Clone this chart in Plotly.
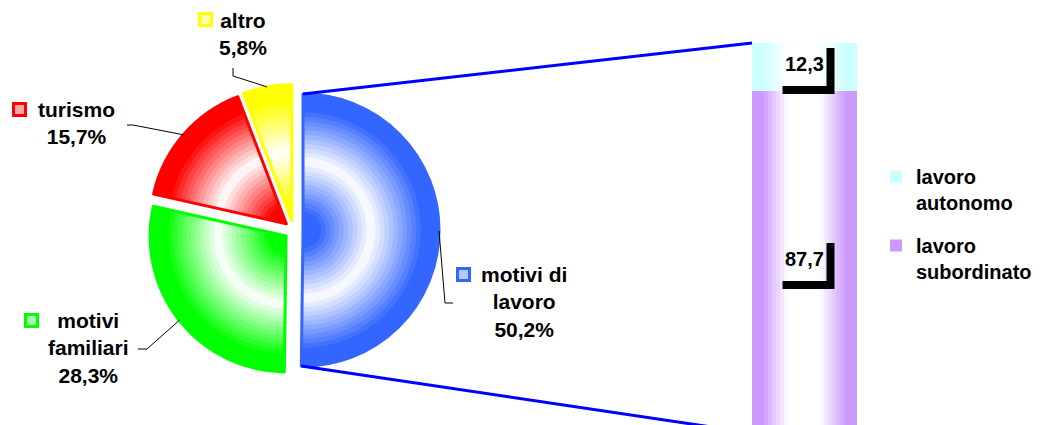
import textwrap
import numpy as np
import plotly.graph_objects as go

# dati
motivi = ["motivi di lavoro", "motivi familiari", "turismo", "altro"]
quote = [50.2, 28.3, 15.7, 5.8]
lavoro = ["lavoro autonomo", "lavoro subordinato"]
quote_lavoro = [12.3, 87.7]

W, H = 1052, 425
OFF = 8  # margine del body della pagina
FONT = "Liberation Sans, Arial, sans-serif"

col_pie = ["#3366FF", "#00FF00", "#FF0000", "#FFFF00"]
col_bar = ["#CCFFFF", "#CC99FF"]


def mix(c, s):
    # s=1 colore pieno, s=0 bianco
    rgb = [int(c[i:i + 2], 16) for i in (1, 3, 5)]
    return "rgb(%d,%d,%d)" % tuple(round(255 + (v - 255) * s) for v in rgb)


def virgola(v):
    return f"{v:.1f}".replace(".", ",")


def paper(px, py):
    return (px - OFF) / W, 1 - (py - OFF) / H


# geometria della torta (pixel dello schermo)
pie_cx, pie_cy, pie_size = 293.5, 230, 291
pull = 0.07
r = pie_size / (2 + 2 * pull)
x0p, y1p = paper(pie_cx - pie_size / 2, pie_cy - pie_size / 2)
x1p, y0p = paper(pie_cx + pie_size / 2, pie_cy + pie_size / 2)
pie_dom = dict(x=[x0p, x1p], y=[y0p, y1p])

fig = go.Figure()

# sfumatura: anelli sovrapposti
N = 30
for k in range(N):
    t = (k + 0.5) / N
    s = min(1.0, abs(t - 0.5) / 0.38)
    fig.add_trace(go.Pie(
        labels=motivi, values=quote, hole=k / N, sort=False, direction="clockwise",
        rotation=0, pull=pull, domain=pie_dom, textinfo="none", hoverinfo="skip",
        showlegend=False, marker=dict(colors=[mix(c, s) for c in col_pie], line=dict(width=0)),
    ))
fig.add_trace(go.Pie(
    labels=motivi, values=quote, sort=False, direction="clockwise", rotation=0,
    pull=pull, domain=pie_dom, textinfo="none", showlegend=False,
    marker=dict(colors=["rgba(0,0,0,0)"] * 4, line=dict(color=col_pie, width=3)),
))

# barra
bx0, by1 = paper(752, 43)
bx1, by0 = paper(857, H + OFF)
bar_dom_x = [bx0, bx1]
bar_dom_y = [by0, by1]

basi = [sum(quote_lavoro[i + 1:]) for i in range(len(quote_lavoro))]
S = 26  # strisce verticali per la sfumatura
for i, (nome, v, b) in enumerate(zip(lavoro, quote_lavoro, basi)):
    for j in range(S):
        a = -0.5 + j / S
        u = abs(a + 0.5 / S) * 2
        s = min(1.0, max(0.0, (u - 0.3) / 0.5))
        fig.add_trace(go.Bar(
            x=[0], y=[v], base=[b], width=[1 / S + 0.006], offset=[a - 0.003],
            marker=dict(color=mix(col_bar[i], s), line=dict(width=0)),
            name="<br>".join(textwrap.wrap(nome, 9, break_long_words=False)),
            legendgroup=nome, showlegend=(j == 0), hoverinfo="skip",
        ))
for v, b in zip(quote_lavoro, basi):
    fig.add_annotation(x=0, y=b + v / 2, xref="x", yref="y", yshift=3, showarrow=False,
                       text=virgola(v),
                       font=dict(family=FONT, size=20, color="black", weight="bold"))
    # cornice nera dell'etichetta
    fig.add_shape(type="path", xref="x", yref="y", xsizemode="pixel", ysizemode="pixel",
                  xanchor=0, yanchor=b + v / 2, path="M -22,-23 L 26,-23 L 26,19",
                  line=dict(color="black", width=8))

# etichette della torta
pos_testo = [(524, 302), (88, 348), (76, 123), (243, 34)]
pos_chiave = [(463, 274), (31, 320), (19, 109), (205, 20)]
gomiti = [[(445, 303), (453, 303)], [(147, 349), (138, 349)],
          [(133, 125), (127, 125)], [(233, 76), (233, 68)]]

tot = sum(quote)
cum = np.cumsum([0] + quote)
for i, (nome, v) in enumerate(zip(motivi, quote)):
    mid = np.radians(360 * (cum[i] + v / 2) / tot)
    ax_ = pie_cx + (r + pull * r) * np.sin(mid)
    ay_ = pie_cy - (r + pull * r) * np.cos(mid)
    pts = [(ax_, ay_)] + gomiti[i]
    path = "M " + " L ".join("%.4f,%.4f" % paper(px, py) for px, py in pts)
    fig.add_shape(type="path", xref="paper", yref="paper", path=path,
                  line=dict(color="black", width=1))
    tx, ty = paper(*pos_testo[i])
    fig.add_annotation(
        x=tx, y=ty, xref="paper", yref="paper", xanchor="center", yanchor="middle",
        showarrow=False, align="center",
        text="<br>".join(textwrap.wrap(nome, 9)) + "<br>" + virgola(v) + "%",
        font=dict(family=FONT, size=21, color="black", weight="bold"),
    )
    kx, ky = paper(*pos_chiave[i])
    fig.add_annotation(
        x=kx, y=ky, xref="paper", yref="paper", xanchor="center", yanchor="middle",
        showarrow=False, text=" ", width=9, height=9, borderpad=0, borderwidth=3,
        bordercolor=col_pie[i], bgcolor=mix(col_pie[i], 0.35), font=dict(size=6),
    )

# linee di collegamento torta-barra
theta_end = np.radians(360 * quote[0] / tot)
theta_mid = theta_end / 2
cbx = pie_cx + pull * r * np.sin(theta_mid)
cby = pie_cy - pull * r * np.cos(theta_mid)
top = paper(cbx, cby - r)
bot = paper(cbx + r * np.sin(theta_end), cby - r * np.cos(theta_end))
fig.add_shape(type="line", xref="paper", yref="paper", x0=top[0], y0=top[1],
              x1=bar_dom_x[0], y1=bar_dom_y[1], line=dict(color="#0000FF", width=3))
fig.add_shape(type="line", xref="paper", yref="paper", x0=bot[0], y0=bot[1],
              x1=bar_dom_x[0], y1=bar_dom_y[0], line=dict(color="#0000FF", width=3))

lx, ly = paper(876, 157)
fig.update_layout(
    width=W, height=H, margin=dict(l=0, r=0, t=0, b=0),
    paper_bgcolor="white", plot_bgcolor="white", barmode="overlay",
    xaxis=dict(domain=bar_dom_x, range=[-0.5, 0.5], visible=False),
    yaxis=dict(domain=bar_dom_y, range=[0, 100], visible=False),
    legend=dict(x=lx, y=ly, xanchor="left", yanchor="top", valign="top",
                traceorder="grouped", tracegroupgap=14, bgcolor="rgba(0,0,0,0)",
                font=dict(family=FONT, size=20, color="black", weight="bold")),
    font=dict(family=FONT),
)

fig.write_html("out.html")
